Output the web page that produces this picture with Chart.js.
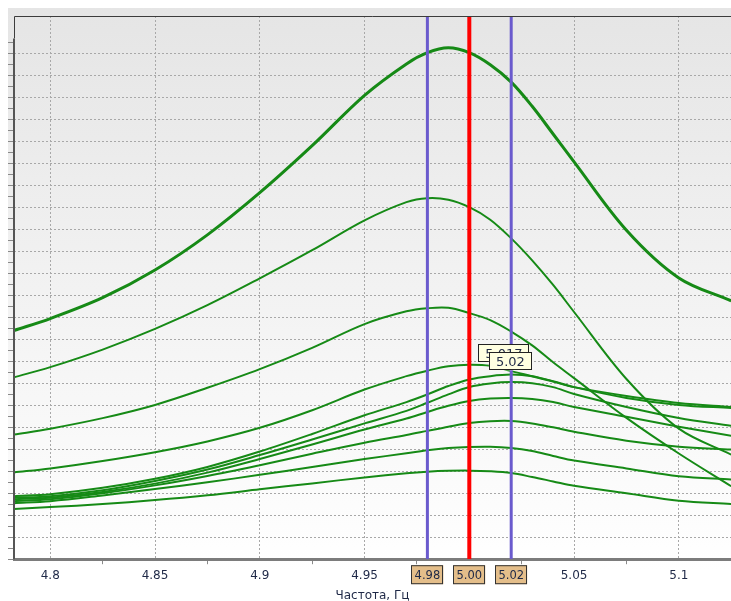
<!DOCTYPE html>
<html>
<head>
<meta charset="utf-8">
<script src="https://cdn.jsdelivr.net/npm/chart.js@4.4.0/dist/chart.umd.min.js"></script>
<style>
  html, body { margin:0; padding:0; background:#fff; overflow:hidden; }
  canvas { display:block; }
</style>
</head>
<body>
<canvas id="chart" width="731" height="606"></canvas>
<script>
// frequency samples, Hz
const freq = [4.7827, 4.80, 4.825, 4.85, 4.875, 4.90, 4.925, 4.95, 4.97, 4.98, 4.99, 5.00, 5.01, 5.02, 5.03, 5.04, 5.05, 5.075, 5.10, 5.125];

// response curves (grid units, no y labels on the original)
const line1  = [10.41, 10.95, 11.90, 13.16, 14.76, 16.68, 18.82, 21.11, 22.54, 23.05, 23.27, 23.05, 22.50, 21.71, 20.61, 19.35, 18.08, 14.97, 12.80, 11.76];
const line2  = [8.28, 8.74, 9.54, 10.48, 11.56, 12.78, 14.06, 15.42, 16.25, 16.43, 16.36, 16.02, 15.45, 14.60, 13.60, 12.48, 11.25, 8.20, 5.94, 4.76];
const line3  = [5.67, 5.94, 6.42, 7.02, 7.80, 8.65, 9.62, 10.70, 11.28, 11.42, 11.44, 11.20, 10.88, 10.36, 9.73, 8.96, 8.24, 6.43, 4.81, 3.32];
const line4  = [3.95, 4.13, 4.47, 4.87, 5.36, 5.98, 6.78, 7.72, 8.33, 8.58, 8.78, 8.85, 8.80, 8.56, 8.33, 8.08, 7.83, 7.43, 7.11, 6.93];
const line5  = [2.87, 2.96, 3.25, 3.66, 4.20, 4.90, 5.70, 6.55, 7.15, 7.50, 7.88, 8.18, 8.33, 8.40, 8.33, 8.10, 7.83, 7.34, 7.02, 6.88];
const line6  = [2.80, 2.87, 3.14, 3.56, 4.08, 4.74, 5.45, 6.18, 6.75, 7.12, 7.50, 7.84, 8.00, 8.06, 8.01, 7.83, 7.52, 6.93, 6.43, 6.07];
const line7  = [2.73, 2.80, 3.06, 3.44, 3.94, 4.56, 5.22, 5.90, 6.40, 6.70, 6.98, 7.20, 7.31, 7.34, 7.29, 7.15, 6.93, 6.48, 6.03, 5.62];
const line8  = [2.64, 2.73, 3.00, 3.36, 3.79, 4.28, 4.80, 5.30, 5.65, 5.84, 6.03, 6.20, 6.28, 6.29, 6.18, 6.00, 5.80, 5.39, 5.12, 4.99];
const line9  = [2.55, 2.64, 2.90, 3.19, 3.50, 3.84, 4.20, 4.56, 4.82, 4.96, 5.06, 5.11, 5.12, 5.06, 4.92, 4.70, 4.49, 4.13, 3.77, 3.63];
const line10 = [2.29, 2.37, 2.51, 2.69, 2.91, 3.18, 3.45, 3.72, 3.91, 3.98, 4.02, 4.03, 4.00, 3.92, 3.74, 3.54, 3.34, 3.00, 2.66, 2.51];

// cursors and hover labels
const cursors = [4.98, 5.00, 5.02];
const cursorLabels = ['4.98', '5.00', '5.02'];
const tipX = [5.0165, 5.0196];
const tipY = [8.96, 8.60];
const tipLabels = ['5.017', '5.02'];

const X_MIN = 4.7827, X_MAX = 5.1249;
const Y_MIN = 0, Y_MAX = 24.72;
const FONT = 'DejaVu Sans';
const GREEN = '#168a16';

const isMajorX = v => Math.abs(v * 20 - Math.round(v * 20)) < 1e-6;
const isMajorY = v => Math.abs(v - Math.round(v)) < 1e-6;

const curves = [line1, line2, line3, line4, line5, line6, line7, line8, line9, line10];
const curveSets = curves.map((arr, i) => ({
  data: arr.map((v, j) => ({ x: freq[j], y: v })),
  borderColor: GREEN,
  borderWidth: i === 0 ? 3 : 2,
  pointRadius: 0,
  tension: 0.35,
  order: 2
}));
const cursorSets = cursors.map(c => ({
  data: [{ x: c, y: Y_MIN }, { x: c, y: Y_MAX }],
  borderColor: c === 5.00 ? '#ff0000' : '#6a5acd',
  borderWidth: c === 5.00 ? 4 : 3,
  pointRadius: 0,
  order: 1
}));

const panelBg = {
  id: 'panelBg',
  beforeDraw(chart) {
    const { ctx, width, height } = chart;
    ctx.save();
    ctx.fillStyle = '#fff';
    ctx.fillRect(0, 0, width, height);
    const g = ctx.createLinearGradient(0, 8, 0, 570);
    g.addColorStop(0, '#e5e5e5');
    g.addColorStop(1, '#ffffff');
    ctx.fillStyle = g;
    ctx.fillRect(8, 8, width - 8, height - 8);
    ctx.restore();
  },
  afterDraw(chart) {
    const { ctx, chartArea: a, scales } = chart;
    ctx.save();
    // frame: thin top/left, thick left axis below the last tick
    const axTop = scales.y.getPixelForValue(23.7);
    ctx.strokeStyle = '#3c3c3c';
    ctx.lineWidth = 1;
    ctx.beginPath();
    ctx.moveTo(a.right, a.top + 0.5);
    ctx.lineTo(a.left + 0.5, a.top + 0.5);
    ctx.lineTo(a.left + 0.5, axTop);
    ctx.stroke();
    ctx.strokeStyle = '#555';
    ctx.lineWidth = 2;
    ctx.beginPath();
    ctx.moveTo(a.left, axTop);
    ctx.lineTo(a.left, a.bottom);
    ctx.stroke();

    // hover labels
    ctx.font = '13px ' + FONT;
    ctx.textAlign = 'center';
    ctx.textBaseline = 'middle';
    tipLabels.forEach((t, i) => {
      const px = scales.x.getPixelForValue(tipX[i]);
      const py = scales.y.getPixelForValue(tipY[i]);
      const w = ctx.measureText(t).width + 14, h = 18;
      ctx.fillStyle = '#ffffe1';
      ctx.fillRect(px - w / 2, py - h, w, h);
      ctx.strokeStyle = '#222';
      ctx.lineWidth = 1;
      ctx.strokeRect(Math.round(px - w / 2) + 0.5, Math.round(py - h) + 0.5, Math.round(w) - 1, h - 1);
      ctx.fillStyle = '#1e2846';
      ctx.fillText(t, px, py - h / 2 + 1);
    });

    // cursor value boxes under the axis
    ctx.font = '11.5px ' + FONT;
    cursorLabels.forEach((t, i) => {
      const px = scales.x.getPixelForValue(cursors[i]);
      const w = 32, h = 19, top = a.bottom + 6;
      ctx.fillStyle = '#e4be8a';
      ctx.fillRect(px - w / 2, top, w, h);
      ctx.strokeStyle = '#333';
      ctx.lineWidth = 1;
      ctx.strokeRect(Math.round(px - w / 2) + 0.5, top + 0.5, w - 1, h - 1);
      ctx.fillStyle = '#1e2846';
      ctx.fillText(t, px, top + h / 2 + 1);
    });
    ctx.restore();
  }
};

new Chart(document.getElementById('chart'), {
  type: 'line',
  data: { datasets: [...cursorSets, ...curveSets] },
  options: {
    responsive: false,
    animation: false,
    devicePixelRatio: 1,
    layout: { padding: { left: 8, top: 16, right: 0, bottom: 0 } },
    plugins: { legend: { display: false }, tooltip: { enabled: false } },
    scales: {
      x: {
        type: 'linear',
        min: X_MIN,
        max: X_MAX,
        ticks: {
          stepSize: 0.025,
          includeBounds: false,
          autoSkip: false,
          maxRotation: 0,
          padding: 4,
          color: '#1e2846',
          font: { family: FONT, size: 12 },
          callback: v => isMajorX(v) ? String(Math.round(v * 100) / 100) : ''
        },
        grid: {
          color: c => (c.tick && isMajorX(c.tick.value)) ? '#a8a8a8' : 'rgba(0,0,0,0)',
          tickColor: c => (c.tick && !isMajorX(c.tick.value)) ? '#8a8a8a' : 'rgba(0,0,0,0)',
          tickLength: 5,
          lineWidth: 1
        },
        border: { display: true, color: '#7c7c7c', width: 3, dash: [2, 2] },
        title: {
          display: true,
          text: 'Частота, Гц',
          color: '#1e2846',
          font: { family: FONT, size: 12 },
          padding: { top: 2, bottom: 3 }
        }
      },
      y: {
        type: 'linear',
        min: Y_MIN,
        max: Y_MAX,
        afterBuildTicks: s => { s.ticks = s.ticks.filter(t => t.value <= 23.5); },
        ticks: { stepSize: 0.5, display: false },
        grid: {
          color: c => (c.tick && isMajorY(c.tick.value) && c.tick.value > 0) ? '#a8a8a8' : 'rgba(0,0,0,0)',
          tickColor: '#8a8a8a',
          tickLength: 6,
          lineWidth: 1
        },
        border: { display: false, dash: [2, 2] }
      }
    }
  },
  plugins: [panelBg]
});
</script>
</body>
</html>
